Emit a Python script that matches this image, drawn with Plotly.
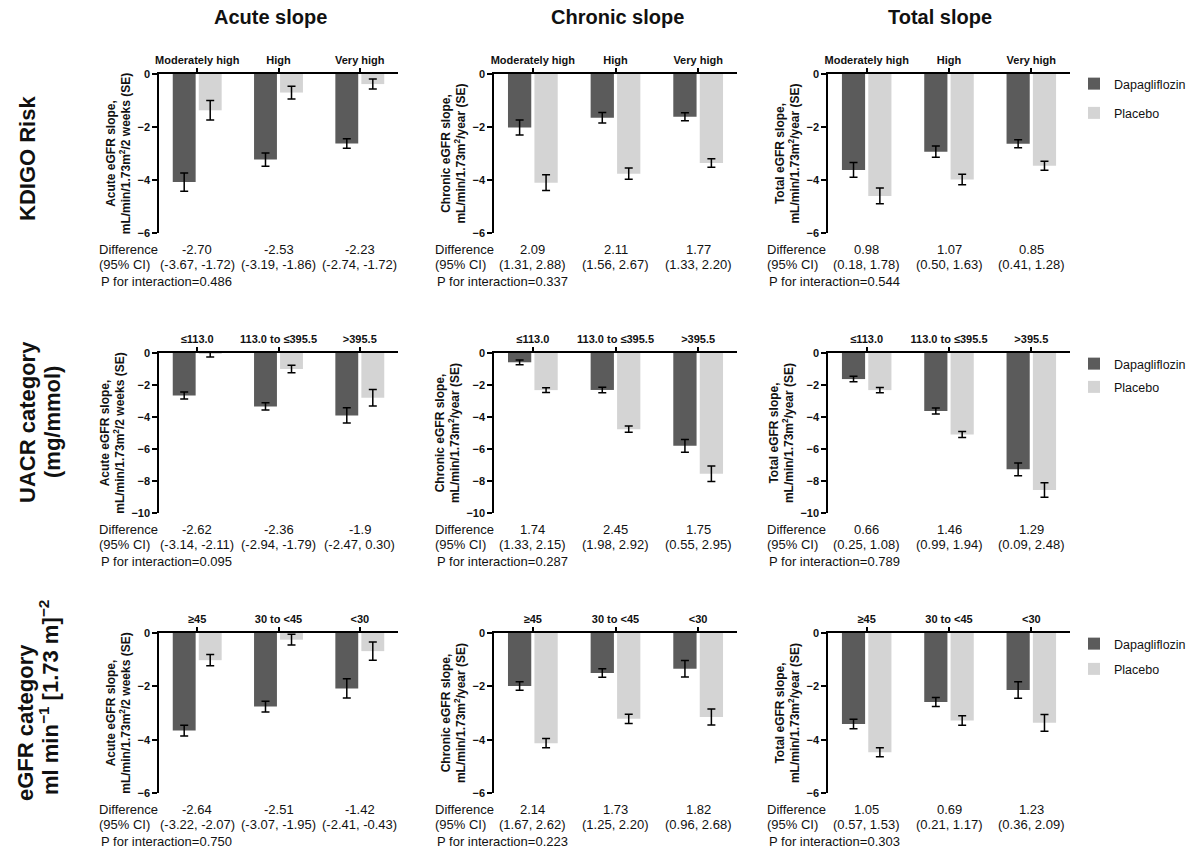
import plotly.graph_objects as go

W, H = 1196, 854
FONT = "Arial, Liberation Sans, sans-serif"
DARK = "#5b5b5b"
LIGHT = "#d4d4d4"

# ---------------- data ----------------
kdigo_cats = ["Moderately high", "High", "Very high"]
uacr_cats = ["≤113.0", "113.0 to ≤395.5", ">395.5"]
egfr_cats = ["≥45", "30 to <45", "<30"]

# KDIGO risk
kdigo_acute_dapa = [-4.08, -3.23, -2.62]
kdigo_acute_dapa_se = [0.34, 0.25, 0.18]
kdigo_acute_plac = [-1.37, -0.70, -0.38]
kdigo_acute_plac_se = [0.37, 0.24, 0.19]
kdigo_chronic_dapa = [-2.02, -1.65, -1.61]
kdigo_chronic_dapa_se = [0.28, 0.20, 0.15]
kdigo_chronic_plac = [-4.10, -3.76, -3.36]
kdigo_chronic_plac_se = [0.30, 0.21, 0.16]
kdigo_total_dapa = [-3.62, -2.93, -2.63]
kdigo_total_dapa_se = [0.28, 0.21, 0.15]
kdigo_total_plac = [-4.60, -3.98, -3.46]
kdigo_total_plac_se = [0.30, 0.20, 0.17]

# UACR category
uacr_acute_dapa = [-2.65, -3.34, -3.90]
uacr_acute_dapa_se = [0.22, 0.23, 0.48]
uacr_acute_plac = [-0.05, -1.00, -2.80]
uacr_acute_plac_se = [0.20, 0.24, 0.52]
uacr_chronic_dapa = [-0.58, -2.31, -5.80]
uacr_chronic_dapa_se = [0.15, 0.17, 0.40]
uacr_chronic_plac = [-2.32, -4.76, -7.55]
uacr_chronic_plac_se = [0.15, 0.19, 0.48]
uacr_total_dapa = [-1.63, -3.63, -7.27]
uacr_total_dapa_se = [0.17, 0.19, 0.40]
uacr_total_plac = [-2.32, -5.09, -8.56]
uacr_total_plac_se = [0.17, 0.19, 0.45]

# eGFR category
egfr_acute_dapa = [-3.66, -2.76, -2.08]
egfr_acute_dapa_se = [0.20, 0.20, 0.36]
egfr_acute_plac = [-1.02, -0.25, -0.68]
egfr_acute_plac_se = [0.21, 0.20, 0.34]
egfr_chronic_dapa = [-1.99, -1.50, -1.34]
egfr_chronic_dapa_se = [0.16, 0.16, 0.31]
egfr_chronic_plac = [-4.13, -3.22, -3.15]
egfr_chronic_plac_se = [0.17, 0.17, 0.30]
egfr_total_dapa = [-3.41, -2.59, -2.14]
egfr_total_dapa_se = [0.18, 0.17, 0.31]
egfr_total_plac = [-4.47, -3.28, -3.37]
egfr_total_plac_se = [0.17, 0.18, 0.31]

# difference, CI and p for interaction
kdigo_diff = [["-2.70", "-2.53", "-2.23"], ["2.09", "2.11", "1.77"], ["0.98", "1.07", "0.85"]]
kdigo_ci = [["(-3.67, -1.72)", "(-3.19, -1.86)", "(-2.74, -1.72)"],
            ["(1.31, 2.88)", "(1.56, 2.67)", "(1.33, 2.20)"],
            ["(0.18, 1.78)", "(0.50, 1.63)", "(0.41, 1.28)"]]
kdigo_p = ["0.486", "0.337", "0.544"]

uacr_diff = [["-2.62", "-2.36", "-1.9"], ["1.74", "2.45", "1.75"], ["0.66", "1.46", "1.29"]]
uacr_ci = [["(-3.14, -2.11)", "(-2.94, -1.79)", "(-2.47, 0.30)"],
           ["(1.33, 2.15)", "(1.98, 2.92)", "(0.55, 2.95)"],
           ["(0.25, 1.08)", "(0.99, 1.94)", "(0.09, 2.48)"]]
uacr_p = ["0.095", "0.287", "0.789"]

egfr_diff = [["-2.64", "-2.51", "-1.42"], ["2.14", "1.73", "1.82"], ["1.05", "0.69", "1.23"]]
egfr_ci = [["(-3.22, -2.07)", "(-3.07, -1.95)", "(-2.41, -0.43)"],
           ["(1.67, 2.62)", "(1.25, 2.20)", "(0.96, 2.68)"],
           ["(0.57, 1.53)", "(0.21, 1.17)", "(0.36, 2.09)"]]
egfr_p = ["0.750", "0.223", "0.303"]

col_titles = ["Acute slope", "Chronic slope", "Total slope"]
row_title_lines = [["KDIGO Risk"], ["UACR category", "(mg/mmol)"],
                   ["eGFR category", "ml min<sup>−1</sup> [1.73 m]<sup>−2</sup>"]]
y_titles = ["Acute eGFR slope,<br>mL/min/1.73m<sup>2</sup>/2 weeks (SE)",
            "Chronic eGFR slope,<br>mL/min/1.73m<sup>2</sup>/year (SE)",
            "Total eGFR slope,<br>mL/min/1.73m<sup>2</sup>/year (SE)"]
y_mins = [-6, -10, -6]

rows = [
    dict(cats=kdigo_cats,
         dapa=[kdigo_acute_dapa, kdigo_chronic_dapa, kdigo_total_dapa],
         dapa_se=[kdigo_acute_dapa_se, kdigo_chronic_dapa_se, kdigo_total_dapa_se],
         plac=[kdigo_acute_plac, kdigo_chronic_plac, kdigo_total_plac],
         plac_se=[kdigo_acute_plac_se, kdigo_chronic_plac_se, kdigo_total_plac_se],
         diff=kdigo_diff, ci=kdigo_ci, p=kdigo_p),
    dict(cats=uacr_cats,
         dapa=[uacr_acute_dapa, uacr_chronic_dapa, uacr_total_dapa],
         dapa_se=[uacr_acute_dapa_se, uacr_chronic_dapa_se, uacr_total_dapa_se],
         plac=[uacr_acute_plac, uacr_chronic_plac, uacr_total_plac],
         plac_se=[uacr_acute_plac_se, uacr_chronic_plac_se, uacr_total_plac_se],
         diff=uacr_diff, ci=uacr_ci, p=uacr_p),
    dict(cats=egfr_cats,
         dapa=[egfr_acute_dapa, egfr_chronic_dapa, egfr_total_dapa],
         dapa_se=[egfr_acute_dapa_se, egfr_chronic_dapa_se, egfr_total_dapa_se],
         plac=[egfr_acute_plac, egfr_chronic_plac, egfr_total_plac],
         plac_se=[egfr_acute_plac_se, egfr_chronic_plac_se, egfr_total_plac_se],
         diff=egfr_diff, ci=egfr_ci, p=egfr_p),
]

# ---------------- layout geometry (pixels) ----------------
col_px = [(159, 398), (494, 737), (828, 1070)]
row_px = [(74, 233), (353, 513), (633, 793)]
diff_left_px = [97, 433, 765]
row_title_pos = [[(27, 159)], [(27, 422), (52, 422)], [(25, 723), (49, 698)]]


def fx(v):
    return v / W


def fy(v):
    return 1 - v / H


fig = go.Figure()
layout = dict(
    width=W, height=H, margin=dict(l=0, r=0, t=0, b=0, pad=0, autoexpand=False),
    paper_bgcolor="white", plot_bgcolor="white",
    barmode="group", bargap=0.36, bargroupgap=0.12,
    font=dict(family=FONT, color="#111111"),
    showlegend=True,
)
annotations = []
legend_tops = [69, 349, 629]
legend_gaps = [10, 4, 6]

for r, row in enumerate(rows):
    legname = "legend" if r == 0 else f"legend{r + 1}"
    layout[legname] = dict(
        x=fx(1074), y=fy(legend_tops[r]), xanchor="left", yanchor="top",
        font=dict(family=FONT, size=12.5, color="#111111"),
        bgcolor="rgba(0,0,0,0)", traceorder="grouped",
        tracegroupgap=legend_gaps[r],
    )
    for c in range(3):
        k = r * 3 + c + 1
        xa = "x" if k == 1 else f"x{k}"
        ya = "y" if k == 1 else f"y{k}"
        show = (c == 2)
        for name, vals, se, color in [
            ("Dapagliflozin", row["dapa"][c], row["dapa_se"][c], DARK),
            ("Placebo", row["plac"][c], row["plac_se"][c], LIGHT),
        ]:
            fig.add_trace(go.Bar(
                x=row["cats"], y=vals, name=name,
                marker=dict(color=color, line=dict(width=0)),
                error_y=dict(type="data", array=se, visible=True,
                             color="black", thickness=1.5, width=4),
                xaxis=xa, yaxis=ya, legend=legname,
                legendgroup=f"{name}{r}", showlegend=show,
            ))
        x0, x1 = col_px[c]
        ytop, ybot = row_px[r]
        layout[f"xaxis{k if k > 1 else ''}"] = dict(
            domain=[fx(x0), fx(x1)], anchor=ya, side="top",
            type="category", categoryorder="array", categoryarray=row["cats"],
            range=[-0.47, 2.47], showline=True, linecolor="black", linewidth=1.5,
            ticks="outside", ticklen=4, tickwidth=1.5, tickcolor="black",
            tickfont=dict(family=FONT, size=11, weight="bold", color="#111111"),
            showgrid=False, zeroline=False, fixedrange=True, automargin=False,
        )
        ymin = y_mins[r]
        layout[f"yaxis{k if k > 1 else ''}"] = dict(
            domain=[fy(ybot), fy(ytop)], anchor=xa,
            range=[ymin, 0], tickmode="array",
            tickvals=list(range(0, ymin - 1, -2)),
            showline=True, linecolor="black", linewidth=1.5,
            ticks="outside", ticklen=5, tickwidth=1.5, tickcolor="black",
            tickfont=dict(family=FONT, size=11, weight="bold", color="#111111"),
            showgrid=False, zeroline=False, fixedrange=True, automargin=False,
            title=dict(text=y_titles[c], standoff=4,
                       font=dict(family=FONT, size=12, weight="bold", color="#111111")),
        )
        # Difference / CI rows
        annotations.append(dict(xref="paper", yref="paper", x=fx(diff_left_px[c]),
                                y=fy(ybot + 16), text="Difference", showarrow=False,
                                xanchor="left", yanchor="middle", font=dict(size=13)))
        annotations.append(dict(xref="paper", yref="paper", x=fx(diff_left_px[c]),
                                y=fy(ybot + 31), text="(95% CI)", showarrow=False,
                                xanchor="left", yanchor="middle", font=dict(size=13)))
        annotations.append(dict(xref="paper", yref="paper", x=fx(diff_left_px[c] + 2),
                                y=fy(ybot + 48), text=f"P for interaction={row['p'][c]}",
                                showarrow=False, xanchor="left", yanchor="middle",
                                font=dict(size=13)))
        for i in range(3):
            annotations.append(dict(xref=xa, yref="paper", x=i, y=fy(ybot + 16),
                                    text=row["diff"][c][i], showarrow=False,
                                    xanchor="center", yanchor="middle", font=dict(size=13)))
            annotations.append(dict(xref=xa, yref="paper", x=i, y=fy(ybot + 31),
                                    text=row["ci"][c][i], showarrow=False,
                                    xanchor="center", yanchor="middle", font=dict(size=13)))

# column titles
for c, t in enumerate(col_titles):
    cx = [270, 617, 940][c]
    annotations.append(dict(xref="paper", yref="paper", x=fx(cx), y=fy(17), text=t,
                            showarrow=False, xanchor="center", yanchor="middle",
                            font=dict(size=20, weight="bold")))
# row titles
for r, lines in enumerate(row_title_lines):
    for j, t in enumerate(lines):
        px, py = row_title_pos[r][j]
        annotations.append(dict(xref="paper", yref="paper", x=fx(px), y=fy(py), text=t,
                                showarrow=False, xanchor="center", yanchor="middle",
                                textangle=-90, font=dict(size=22, weight="bold")))

layout["annotations"] = annotations
fig.update_layout(**layout)
fig.write_html("out.html", config={"displayModeBar": False},
               post_script="document.body.style.margin='0';document.body.style.overflow='hidden';")
